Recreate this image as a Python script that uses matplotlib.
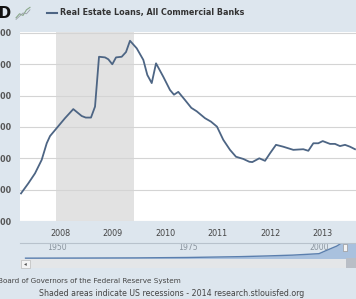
import matplotlib
matplotlib.use("Agg")
import matplotlib.pyplot as plt
from matplotlib.patches import Rectangle

# main series: real estate loans, billions of dollars
dates = [2007.257, 2007.396, 2007.524, 2007.651, 2007.747, 2007.810, 2007.905,
         2008.095, 2008.253, 2008.413, 2008.490, 2008.590, 2008.667, 2008.743,
         2008.857, 2008.920, 2008.996, 2009.067, 2009.175, 2009.257, 2009.333,
         2009.461, 2009.587, 2009.663, 2009.747, 2009.829, 2009.968, 2010.095,
         2010.171, 2010.253, 2010.381, 2010.501, 2010.604, 2010.762, 2010.876,
         2010.990, 2011.110, 2011.238, 2011.352, 2011.491, 2011.606, 2011.663,
         2011.796, 2011.905, 2012.000, 2012.114, 2012.253, 2012.444, 2012.634,
         2012.730, 2012.825, 2012.920, 2013.004, 2013.143, 2013.238, 2013.333,
         2013.429, 2013.524, 2013.619]
loans = [3388, 3420, 3452, 3495, 3548, 3571, 3590,
         3628, 3657, 3635, 3630, 3630, 3665, 3824,
         3822, 3816, 3800, 3822, 3824, 3839, 3875,
         3851, 3814, 3766, 3740, 3803, 3760, 3718,
         3703, 3712, 3686, 3661, 3650, 3628, 3617,
         3601, 3559, 3527, 3505, 3498, 3489, 3488,
         3500, 3492, 3516, 3543, 3537, 3527, 3529,
         3524, 3548, 3548, 3555, 3546, 3546, 3539,
         3543, 3537, 3529]

recession_start = 2007.917
recession_end = 2009.417

year_ticks = [2008, 2009, 2010, 2011, 2012, 2013]
value_ticks = [3300, 3400, 3500, 3600, 3700, 3800, 3900]

# navigator (whole history, squeezed into the strip below)
nav_years = [1944, 1955, 1965, 1975, 1985, 1990, 1995, 2000, 2001.5, 2003.4, 2004.2, 2006, 2010]
nav_values = [20, 50, 90, 200, 420, 600, 820, 1200, 2100, 3200, 3900, 4300, 4300]
nav_labels = [1950, 1975, 2000]

W, H = 356, 299
BG = "#dde6ee"
LINE = "#4d6584"


def fx(x):
    return x / W


def fy(y):
    return 1 - y / H


fig = plt.figure(figsize=(W / 100, H / 100), dpi=100, facecolor=BG)

# main plot area
ax = fig.add_axes([fx(20), fy(221), fx(357 - 20), (221 - 32) / H])
ax.set_facecolor("white")
ax.axvspan(recession_start, recession_end, color="#e2e2e2", lw=0, zorder=0)
ax.plot(dates, loans, color=LINE, lw=1.3, zorder=3)
ax.set_xlim(2007.238, 2013.657)
ax.set_ylim(3300, 3903)
ax.set_xticks(year_ticks)
ax.set_xticklabels([str(y) for y in year_ticks])
ax.set_yticks(value_ticks)
ax.set_yticklabels([f"{v:,}" for v in value_ticks])
ax.grid(axis="y", color="#d4d4d4", lw=0.8, zorder=1)
ax.tick_params(length=0, labelsize=5.8, colors="#444444")
ax.tick_params(axis="x", pad=6)
ax.tick_params(axis="y", pad=6)
for lab in ax.get_yticklabels():
    lab.set_fontweight("bold")
    lab.set_color("#555555")
for s in ax.spines.values():
    s.set_visible(False)

# header: logo bit + legend
fig.text(fx(12), fy(13), "FRED", ha="right", va="center", fontsize=11,
         fontweight="bold", color="#111111")
icon = fig.add_axes([fx(15), fy(21), fx(16), 16 / H])
icon.set_facecolor("#e9ecea")
icon.plot([0, 1, 2, 3, 4], [0.2, 0.45, 0.35, 0.7, 0.85], color="#8aa88a", lw=0.8)
icon.plot([0, 1, 2, 3, 4], [0.1, 0.3, 0.5, 0.45, 0.7], color="#9aa0a8", lw=0.6)
icon.set_xlim(-0.3, 4.3)
icon.set_ylim(0, 1)
icon.axis("off")
fig.add_artist(plt.Line2D([fx(47), fx(57)], [fy(13), fy(13)], color=LINE, lw=1.5))
fig.text(fx(60), fy(13), "Real Estate Loans, All Commercial Banks", ha="left",
         va="center", fontsize=5.8, fontweight="bold", color="#333333")

# navigator strip
fig.add_artist(plt.Line2D([fx(20), fx(356)], [fy(243), fy(243)], color="#b8c2cc", lw=0.8))
nav = fig.add_axes([fx(20), fy(259), fx(357 - 20), 16 / H])
nav.set_facecolor("none")
nav.fill_between(nav_years, nav_values, -200, color="#a9c1de", lw=0)
nav.plot(nav_years, nav_values, color="#5b7fae", lw=1.0)
nav.set_xlim(1942.94, 2007.25)
nav.set_ylim(-200, 4000)
nav.axis("off")
for yr in nav_labels:
    nav.text(yr, 0.7, str(yr), transform=nav.get_xaxis_transform(), ha="center",
             va="center", fontsize=5.6, color="#8a949e")

# scrollbar
fig.add_artist(Rectangle((fx(20), fy(268)), fx(336), 9 / H, color="#e4e6e8", lw=0))
fig.add_artist(Rectangle((fx(21), fy(267.5)), fx(9), 8 / H, facecolor="#f4f4f4",
                         edgecolor="#bbbbbb", lw=0.5))
fig.text(fx(25.5), fy(263.5), "◂", ha="center", va="center", fontsize=4, color="#555555")
fig.add_artist(Rectangle((fx(346), fy(268)), fx(10), 10 / H, color="#b9bec6", lw=0))
fig.add_artist(Rectangle((fx(343), fy(251)), fx(4), 7 / H, facecolor="#f4f4f4",
                         edgecolor="#999999", lw=0.5))

# footer
fig.text(fx(-2), fy(281), "Board of Governors of the Federal Reserve System", ha="left",
         va="center", fontsize=5.2, color="#444444")
fig.text(fx(172), fy(293), "Shaded areas indicate US recessions - 2014 research.stlouisfed.org",
         ha="center", va="center", fontsize=5.7, color="#444444")

fig.savefig("out.png", dpi=100, facecolor=BG)
